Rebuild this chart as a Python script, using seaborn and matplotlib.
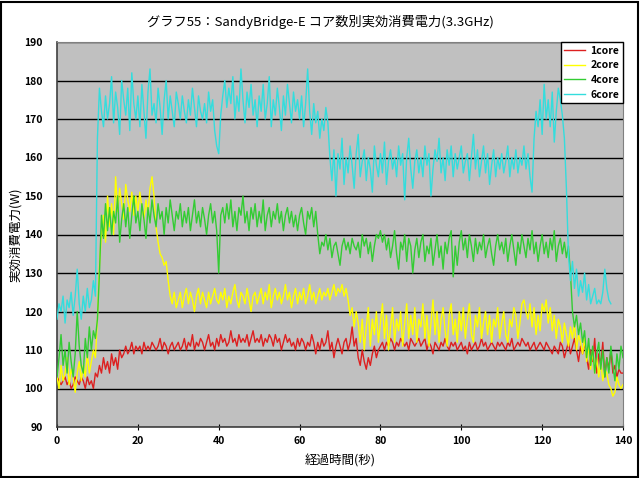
import numpy as np
import pandas as pd
import matplotlib
matplotlib.use('Agg')
import matplotlib.pyplot as plt
import matplotlib.patches as patches
import seaborn as sns

core1 = [103, 102, 101, 102, 103, 101, 102, 100, 101, 103, 102, 101, 103, 102, 100, 103, 101, 102, 100, 104,
         103, 106, 104, 108, 105, 107, 104, 109, 106, 108, 105, 110, 108, 109, 111, 109, 110, 112, 109, 111,
         110, 111, 109, 112, 110, 111, 110, 112, 111, 110, 111, 113, 110, 112, 111, 109, 111, 112, 110, 111,
         112, 110, 111, 113, 110, 112, 111, 114, 110, 112, 111, 113, 112, 110, 112, 114, 111, 112, 110, 113,
         111, 114, 112, 113, 111, 112, 115, 112, 113, 111, 114, 112, 113, 112, 114, 111, 113, 115, 112, 113,
         112, 114, 111, 113, 112, 114, 113, 111, 114, 112, 113, 110, 112, 114, 112, 113, 111, 112, 110, 113,
         111, 113, 112, 110, 112, 111, 114, 112, 109, 112, 110, 113, 111, 112, 115, 110, 112, 108, 111, 113,
         111, 109, 112, 113, 110, 112, 116, 111, 113, 108, 106, 110, 107, 105, 108, 106, 109, 111, 108, 110,
         111, 112, 110, 112, 111, 113, 112, 110, 112, 111, 113, 112, 111, 112, 110, 113, 112, 111, 112, 113,
         111, 112, 113, 110, 112, 111, 109, 112, 111, 110, 112, 111, 113, 111, 110, 112, 111, 112, 110, 111,
         112, 110, 111, 109, 112, 110, 111, 112, 110, 111, 113, 111, 112, 110, 111, 112, 111, 110, 112, 111,
         112, 111, 110, 112, 111, 113, 110, 111, 112, 111, 113, 112, 111, 112, 110, 111, 112, 110, 111, 112,
         111, 110, 112, 111, 110, 109, 111, 110, 109, 112, 111, 108, 110, 112, 109, 111, 113, 110, 107, 111,
         109, 112, 108, 105, 110, 107, 113, 104, 109, 106, 112, 103, 108, 105, 110, 104, 106, 103, 105, 104,
         104]

core2 = [103, 100, 106, 102, 104, 108, 101, 105, 103, 99, 104, 107, 102, 106, 103, 109, 104, 107, 110, 108,
         118, 132, 140, 145, 138, 150, 142, 148, 140, 155, 146, 152, 148, 144, 153, 149, 146, 151, 145, 150,
         146, 151, 147, 144, 149, 145, 152, 155, 150, 142, 138, 135, 134, 132, 133, 128, 124, 122, 125, 121,
         123, 125, 121, 124, 126, 122, 125, 123, 120, 124, 126, 122, 125, 123, 121, 125, 122, 124, 126, 123,
         122, 125, 123, 126, 121, 124, 122, 125, 127, 123, 121, 125, 124, 122, 126, 123, 120, 124, 125, 122,
         124, 126, 122, 125, 123, 127, 121, 124, 126, 123, 125, 122, 124, 127, 123, 125, 121, 124, 126, 122,
         125, 123, 126, 122, 124, 127, 123, 125, 122, 124, 126, 123, 125, 124, 126, 123, 125, 127, 124, 126,
         125, 127, 124, 126, 123, 119, 121, 116, 120, 117, 112, 118, 110, 116, 121, 111, 118, 114, 120, 112,
         117, 122, 113, 119, 110, 116, 121, 112, 118, 115, 120, 111, 117, 122, 113, 119, 114, 121, 112, 118,
         116, 122, 113, 119, 111, 117, 123, 114, 120, 112, 118, 121, 115, 111, 119, 122, 114, 118, 112, 120,
         115, 121, 113, 118, 122, 114, 112, 119, 116, 121, 113, 117, 120, 114, 119, 112, 118, 116, 121, 113,
         117, 120, 114, 112, 118, 116, 121, 119, 113, 117, 122, 123, 120, 118, 122, 116, 121, 114, 119, 115,
         122, 120, 123, 117, 121, 115, 119, 113, 118, 116, 112, 117, 114, 111, 116, 113, 117, 110, 114, 112,
         109, 113, 107, 111, 105, 110, 104, 108, 103, 107, 102, 105, 104, 101, 100, 98, 99, 103, 101, 100,
         101]

core4 = [103, 108, 114, 106, 110, 104, 112, 107, 103, 109, 120, 111, 106, 104, 113, 108, 116, 110, 115, 113,
         118, 130, 145, 139, 148, 141, 147, 140, 146, 143, 150, 138, 144, 148, 142, 147, 139, 145, 150, 143,
         146, 141, 148, 144, 139, 147, 143, 149, 145, 142, 148, 144, 146, 140, 147, 143, 149, 145, 141, 146,
         144, 148, 142, 146, 143, 147, 141, 145, 149, 143, 146, 142, 147, 144, 140, 145, 148, 143, 146, 141,
         130, 145, 147, 143, 148, 144, 149, 142, 146, 141, 147, 145, 150, 143, 146, 141, 147, 144, 148, 142,
         146, 143, 149, 141, 145, 147, 142, 146, 144, 148, 143, 146, 141, 145, 147, 143, 146, 142, 145, 141,
         145, 147, 143, 140, 146, 144, 147, 142, 146, 140, 135, 138, 137, 140, 136, 139, 134, 137, 138, 135,
         132, 137, 139, 136, 138, 135, 139, 137, 136, 138, 134, 140, 137, 139, 135, 138, 133, 137, 140, 139,
         141, 138, 140, 136, 139, 134, 137, 141, 135, 131, 138, 136, 140, 133, 139, 137, 130, 136, 139, 134,
         138, 140, 133, 137, 135, 139, 132, 136, 140, 134, 137, 131, 138, 135, 139, 141, 129, 137, 132, 138,
         141, 136, 139, 134, 140, 137, 133, 139, 135, 138, 136, 140, 134, 137, 139, 135, 132, 137, 140, 136,
         138, 135, 139, 133, 137, 140, 136, 132, 138, 135, 140, 137, 134, 139, 136, 141, 135, 138, 133, 137,
         140, 135, 138, 134, 139, 136, 141, 133, 137, 139, 135, 138, 134, 137, 130, 120, 116, 119, 114, 117,
         112, 115, 108, 113, 106, 111, 104, 109, 112, 105, 110, 103, 108, 104, 111, 106, 102, 109, 105, 111,
         108]

core6 = [118, 122, 120, 124, 117, 123, 121, 125, 119, 124, 131, 122, 118, 124, 120, 126, 121, 123, 128, 124,
         165, 178, 172, 168, 176, 170, 174, 181, 169, 177, 173, 166, 180, 175, 171, 178, 167, 182, 174, 170,
         176, 168, 179, 172, 165, 177, 183, 171, 174, 169, 178, 173, 166, 175, 180, 170, 176, 172, 168, 177,
         174, 170, 176, 172, 169, 175, 171, 178, 173, 168, 176, 172, 170, 174, 169, 177, 172, 175, 167, 163,
         161, 171, 176, 180, 173, 178, 174, 181, 170, 176, 172, 183, 175, 169, 177, 173, 179, 171, 175, 168,
         176, 172, 179, 170, 174, 181, 168, 175, 171, 178, 173, 167, 176, 171, 179, 174, 169, 177, 172, 175,
         170, 176, 168, 174, 183, 172, 166, 174, 169, 172, 165, 170, 167, 173, 169, 160, 154, 162, 150, 161,
         157, 165, 153, 160, 156, 163, 158, 152, 161, 166, 155, 159, 162, 154, 160, 157, 151, 163, 158, 155,
         161, 156, 164, 153, 159, 162, 157, 160, 155, 163, 158, 161, 149, 160, 165, 157, 152, 159, 162, 156,
         160, 155, 163, 158, 161, 150, 157, 162, 159, 165, 156, 160, 154, 162, 158, 163, 155, 161, 157, 160,
         163, 156, 159, 161, 154, 160, 166, 157, 162, 155, 159, 163, 156, 161, 153, 158, 162, 155, 160, 157,
         161, 156, 159, 163, 155, 160, 157, 162, 156, 160, 158, 163, 157, 161, 155, 151, 165, 172, 168, 175,
         166, 179, 170, 175, 168, 177, 164, 172, 178, 175, 171, 165, 152, 135, 128, 133, 126, 131, 124, 128,
         125, 130, 123, 127, 122, 124, 126, 122, 123, 122, 125, 131, 126, 123, 122]

series_names = ['1core', '2core', '4core', '6core']
series_values = [core1, core2, core4, core6]
colors = {'1core': '#dd2020', '2core': '#ffff00', '4core': '#33cc33', '6core': '#33dddd'}

frames = []
for name, vals in zip(series_names, series_values):
    frames.append(pd.DataFrame({'time': np.arange(len(vals)) * 0.5,
                                'power': vals, 'series': name}))
df = pd.concat(frames, ignore_index=True)

font = 'Noto Sans CJK JP'
plt.rcParams['font.family'] = [font, 'DejaVu Sans']

fig = plt.figure(figsize=(6.4, 4.78), dpi=100)
fig.patch.set_facecolor('white')
ax = fig.add_axes([57 / 640, 51 / 478, 566 / 640, 385 / 478])
ax.set_facecolor('#c0c0c0')

sns.lineplot(data=df, x='time', y='power', hue='series', palette=colors,
             linewidth=1.0, estimator=None, ax=ax, zorder=3)

ax.set_xlim(0, 140)
ax.set_ylim(90, 190)
ax.set_xticks(range(0, 141, 20))
ax.set_yticks(range(90, 191, 10))
ax.yaxis.grid(True, color='black', linewidth=1.0, zorder=1)
ax.xaxis.grid(False)
ax.set_axisbelow(True)
for s in ['top', 'right']:
    ax.spines[s].set_color('#808080')
for s in ['left', 'bottom']:
    ax.spines[s].set_color('#404040')
    ax.spines[s].set_linewidth(1.2)
ax.tick_params(axis='x', direction='inout', length=5, labelsize=7.5, pad=4)
ax.tick_params(axis='y', length=0, labelsize=7.5, pad=10)
for lab in ax.get_xticklabels() + ax.get_yticklabels():
    lab.set_fontweight('bold')

ax.set_xlabel('経過時間(秒)', fontsize=9, labelpad=6)
ax.set_ylabel('実効消費電力(W)', fontsize=9)
ax.yaxis.set_label_coords(-0.062, 0.5)

leg = ax.legend(loc='upper right', borderaxespad=0, frameon=True, fancybox=False,
                fontsize=7.5, handlelength=2.0, labelspacing=0.45, borderpad=0.35,
                handletextpad=0.5)
leg.get_frame().set_edgecolor('black')
leg.get_frame().set_linewidth(1.0)
leg.get_frame().set_alpha(1)
for t in leg.get_texts():
    t.set_fontweight('bold')

fig.text(0.5, 0.955, 'グラフ55：SandyBridge-E コア数別実効消費電力(3.3GHz)',
         ha='center', va='center', fontsize=9.5)

fig.patches.append(patches.Rectangle((0.002, 0.003), 0.995, 0.993, transform=fig.transFigure,
                                     fill=False, edgecolor='black', linewidth=1.5))

fig.savefig('out.png', dpi=100)
